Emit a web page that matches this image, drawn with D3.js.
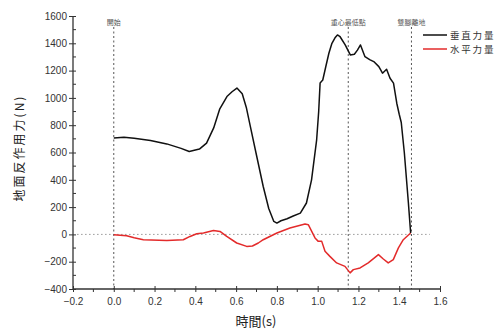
<!DOCTYPE html>
<html lang="zh-Hant">
<head>
  <meta charset="UTF-8">
  <title>地面反作用力</title>
  <script src="https://d3js.org/d3.v7.min.js"></script>
  <style>
    body { margin: 0; background: #fff; }
    .tick text { font-family: "Liberation Sans", Arial, sans-serif; font-size: 10px; fill: #333; }
    .cjk { font-family: "Noto Sans CJK TC", "Noto Sans CJK SC", sans-serif; }
  </style>
</head>
<body>
  <script>
    const width = 498, height = 331;

    // vertical force (black)
    const vertTime = [0, 0.05, 0.1, 0.18, 0.26, 0.33, 0.37, 0.42, 0.455, 0.49, 0.52, 0.555, 0.58, 0.604, 0.63, 0.65, 0.67, 0.70, 0.733, 0.76, 0.785, 0.80, 0.82, 0.85, 0.88, 0.915, 0.945, 0.97, 0.995, 1.005, 1.012, 1.025, 1.04, 1.055, 1.07, 1.085, 1.097, 1.11, 1.135, 1.16, 1.18, 1.195, 1.21, 1.232, 1.255, 1.275, 1.3, 1.318, 1.338, 1.355, 1.372, 1.388, 1.40, 1.41, 1.425, 1.445, 1.456];
    const vertForce = [707, 712, 705, 688, 663, 630, 607, 625, 669, 780, 920, 1010, 1045, 1072, 1030, 930, 790, 580, 351, 190, 95, 83, 100, 115, 135, 156, 230, 400, 693, 900, 1110, 1131, 1230, 1327, 1400, 1440, 1461, 1448, 1388, 1315, 1320, 1350, 1388, 1302, 1280, 1266, 1229, 1181, 1210, 1144, 1108, 961, 880, 820, 600, 230, 10];

    // horizontal force (red)
    const horTime = [0, 0.063, 0.1, 0.145, 0.26, 0.341, 0.374, 0.407, 0.44, 0.489, 0.521, 0.554, 0.603, 0.652, 0.68, 0.709, 0.733, 0.8, 0.864, 0.938, 0.954, 0.987, 1.003, 1.02, 1.036, 1.06, 1.093, 1.134, 1.159, 1.175, 1.208, 1.248, 1.298, 1.322, 1.346, 1.371, 1.396, 1.42, 1.456];
    const horForce = [-2, -10, -25, -39, -44, -39, -15, 5, 10, 29, 22, -15, -63, -88, -85, -63, -39, 10, 47, 76, 71, -26, -51, -51, -124, -161, -209, -234, -282, -258, -246, -209, -148, -180, -209, -185, -99, -39, 10];

    // event markers
    const eventTimes = [0, 1.15, 1.46];
    const eventLabels = ["開始", "重心最低點", "雙腳離地"];

    const seriesNames = ["垂直力量", "水平力量"];
    const seriesColors = ["#111", "#e32b2b"];

    const x = d3.scaleLinear().domain([-0.2, 1.6]).range([73, 440]);
    const y = d3.scaleLinear().domain([-400, 1600]).range([289, 16]);

    const svg = d3.select("body").append("svg")
      .attr("width", width)
      .attr("height", height);

    // zero reference line
    svg.append("line")
      .attr("x1", x(-0.18)).attr("x2", x(1.55))
      .attr("y1", y(0)).attr("y2", y(0))
      .attr("stroke", "#999").attr("stroke-width", 1)
      .attr("stroke-dasharray", "1.5,2.5");

    // event lines + labels
    eventTimes.forEach((t, i) => {
      svg.append("line")
        .attr("x1", x(t)).attr("x2", x(t))
        .attr("y1", 27).attr("y2", y(-400))
        .attr("stroke", "#555").attr("stroke-width", 1)
        .attr("stroke-dasharray", "2,2.5");
      svg.append("text")
        .attr("class", "cjk")
        .attr("x", x(t)).attr("y", 25)
        .attr("text-anchor", "middle")
        .attr("font-size", 7)
        .attr("fill", "#555")
        .text(eventLabels[i]);
    });

    // axes
    const xAxis = svg.append("g")
      .attr("transform", `translate(0,${y(-400)})`)
      .call(d3.axisBottom(x).tickValues(d3.range(-0.2, 1.61, 0.2)).tickFormat(d3.format(".1f")).tickSize(3));
    xAxis.selectAll(".tick line").attr("y1", -3).attr("y2", 3);
    xAxis.selectAll(".tick text").attr("dy", "0.95em");

    const yAxis = svg.append("g")
      .attr("transform", `translate(${x(-0.2)},0)`)
      .call(d3.axisLeft(y).tickValues(d3.range(-400, 1601, 200)).tickFormat(d3.format("d")).tickSize(3));
    yAxis.selectAll(".tick line").attr("x1", -4).attr("x2", 3);

    [xAxis, yAxis].forEach(g => {
      g.select(".domain").attr("stroke", "#333").attr("stroke-width", 1.3);
      g.selectAll(".tick line").attr("stroke", "#333").attr("stroke-width", 1);
    });
    yAxis.select(".domain").attr("d", `M0,${y(1600)}V${y(-400)}`);
    xAxis.select(".domain").attr("d", `M${x(-0.2)},0H${x(1.6)}`);

    // minor ticks
    svg.append("g").selectAll("line")
      .data(d3.range(-0.1, 1.6, 0.2))
      .join("line")
      .attr("x1", d => x(d)).attr("x2", d => x(d))
      .attr("y1", y(-400)).attr("y2", y(-400) + 3)
      .attr("stroke", "#333");
    svg.append("g").selectAll("line")
      .data(d3.range(-300, 1600, 200))
      .join("line")
      .attr("x1", x(-0.2)).attr("x2", x(-0.2) + 3)
      .attr("y1", d => y(d)).attr("y2", d => y(d))
      .attr("stroke", "#333");

    // series lines
    const line = d3.line().x(d => x(d[0])).y(d => y(d[1]));
    svg.append("path")
      .datum(d3.zip(horTime, horForce))
      .attr("fill", "none").attr("stroke", seriesColors[1]).attr("stroke-width", 1.5)
      .attr("stroke-linejoin", "round")
      .attr("d", line);
    svg.append("path")
      .datum(d3.zip(vertTime, vertForce))
      .attr("fill", "none").attr("stroke", seriesColors[0]).attr("stroke-width", 1.5)
      .attr("stroke-linejoin", "round")
      .attr("d", line);

    // legend
    const legend = svg.append("g").attr("transform", "translate(423,35)");
    seriesNames.forEach((name, i) => {
      legend.append("line")
        .attr("x1", 0).attr("x2", 24)
        .attr("y1", i * 14).attr("y2", i * 14)
        .attr("stroke", seriesColors[i]).attr("stroke-width", 1.5);
      legend.append("text")
        .attr("class", "cjk")
        .attr("x", 27).attr("y", i * 14 + 3.5)
        .attr("font-size", 9.5)
        .attr("letter-spacing", 1.8)
        .attr("fill", "#333")
        .text(name);
    });

    // axis titles
    svg.append("text")
      .attr("class", "cjk")
      .attr("x", 256).attr("y", 326)
      .attr("text-anchor", "middle")
      .attr("font-size", 13)
      .attr("fill", "#222")
      .text("時間(s)");

    svg.append("text")
      .attr("class", "cjk")
      .attr("transform", "translate(24,148) rotate(-90)")
      .attr("text-anchor", "middle")
      .attr("font-size", 12)
      .attr("letter-spacing", 2)
      .attr("fill", "#222")
      .text("地面反作用力(N)");
  </script>
</body>
</html>
